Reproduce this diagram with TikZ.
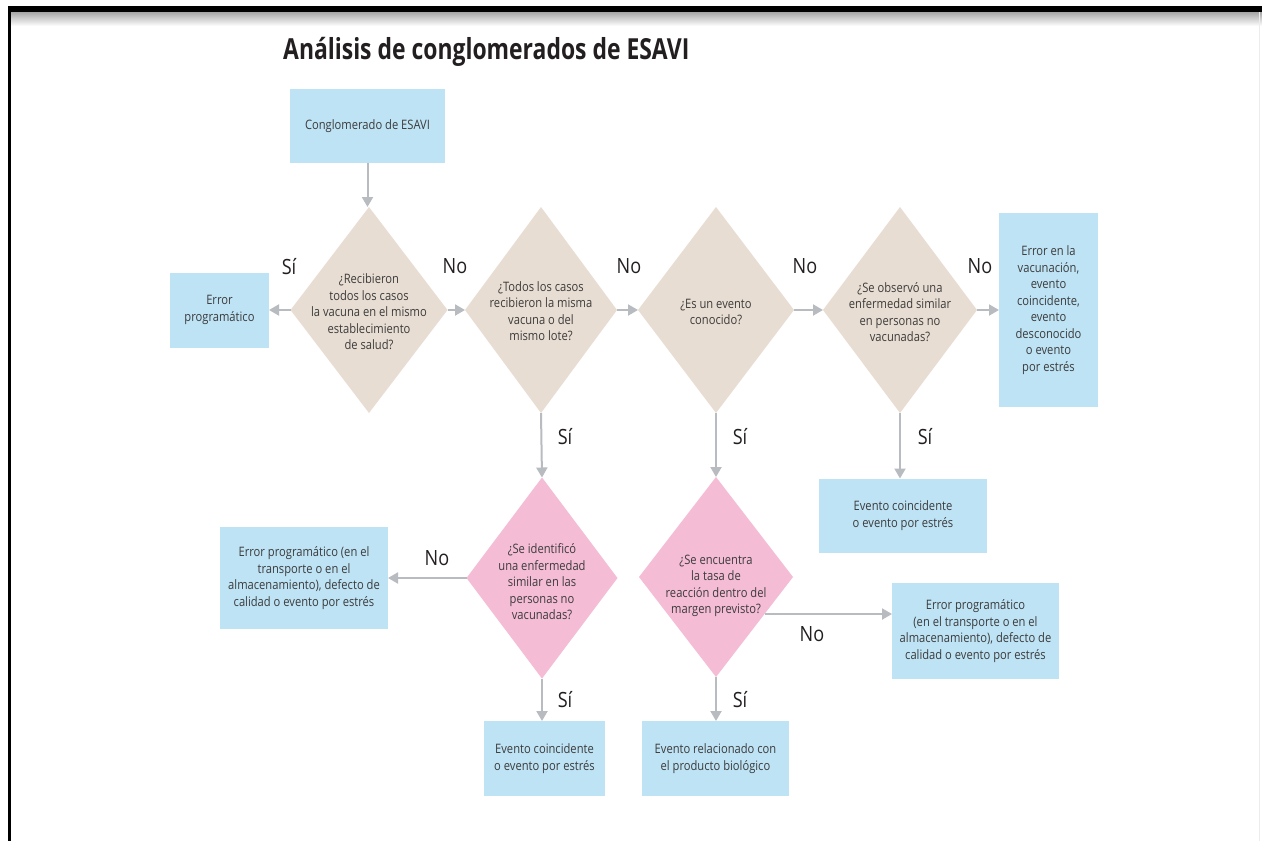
\documentclass[tikz,border=0pt]{standalone}
\usepackage{fontspec}
\setmainfont{Open Sans}[FakeStretch=0.86]
\newfontfamily\titlefont{Open Sans}[FakeStretch=0.79]
\usetikzlibrary{shapes.geometric,arrows.meta,calc}
\definecolor{boxblue}{RGB}{190,227,245}
\definecolor{beiged}{RGB}{232,221,210}
\definecolor{pinkd}{RGB}{245,188,213}
\definecolor{arrgray}{RGB}{184,187,191}
\definecolor{txt}{RGB}{60,60,60}
\definecolor{titlec}{RGB}{35,31,32}
\begin{document}
\begin{tikzpicture}[x=1pt,y=-1pt,
  box/.style={fill=boxblue, inner sep=0pt, outer sep=0pt, text=txt, align=center,
    font=\fontsize{13}{16.5}\selectfont},
  dia/.style={diamond, inner sep=0pt, outer sep=0pt, draw=none},
  beigedia/.style={dia, fill=beiged},
  pinkdia/.style={dia, fill=pinkd},
  dtext/.style={text=txt, align=center, inner sep=0pt, font=\fontsize{13}{16.5}\selectfont},
  arr/.style={draw=arrgray, line width=2pt, -{Triangle[length=10pt,width=11pt]}},
  lab/.style={font=\fontsize{21}{24}\selectfont, text=titlec, inner sep=0pt}]
\useasboundingbox (0,0) rectangle (1262,841);
\fill[white] (0,0) rectangle (1262,841);
% frame
\shade[top color=gray!70, bottom color=white] (8,12) rectangle (1262,26);
\fill[black] (8,6) rectangle (1262,12);
\fill[black] (8,6) rectangle (11,841);
\draw[gray!15, line width=1pt] (1259,12) -- (1259,841);
% title
\node[anchor=west, text=titlec, inner sep=0pt, font=\titlefont\fontsize{29}{32}\selectfont\bfseries] (title) at (283,52) {Análisis de conglomerados de ESAVI};
% boxes
\node[box, minimum width=155pt, minimum height=74pt] (top) at (367.5,126) {Conglomerado de ESAVI};
\node[box, minimum width=99pt, minimum height=75pt] (err1) at (219.5,310) {Error\\programático};
\node[box, minimum width=99pt, minimum height=194pt] (rbox) at (1048.5,310) {Error en la\\vacunación,\\evento\\coincidente,\\evento\\desconocido\\o evento\\por estrés};
\node[box, minimum width=168pt, minimum height=74pt] (coinc1) at (903,515.5) {Evento coincidente\\o evento por estrés};
\node[box, minimum width=168pt, minimum height=102pt] (lb) at (304,578) {Error programático (en el\\transporte o en el\\almacenamiento), defecto de\\calidad o evento por estrés};
\node[box, minimum width=167pt, minimum height=96pt] (rb) at (975.5,631) {Error programático\\(en el transporte o en el\\almacenamiento), defecto de\\calidad o evento por estrés};
\node[box, minimum width=121pt, minimum height=75pt] (coinc2) at (544.5,758.5) {Evento coincidente\\o evento por estrés};
\node[box, minimum width=147pt, minimum height=75pt] (bio) at (715.5,758.5) {Evento relacionado con\\el producto biológico};
% diamonds
\node[beigedia, minimum width=157pt, minimum height=206pt] (d1) at (369,310) {};
\node[beigedia, minimum width=152pt, minimum height=206pt] (d2) at (541,310) {};
\node[beigedia, minimum width=156pt, minimum height=206pt] (d3) at (716,310) {};
\node[beigedia, minimum width=154pt, minimum height=206pt] (d4) at (900,310) {};
\node[pinkdia, minimum width=151pt, minimum height=201pt] (d5) at (542,578) {};
\node[pinkdia, minimum width=154pt, minimum height=200pt] (d6) at (716,577) {};
% diamond texts
\node[dtext] (t1) at (369,312) {¿Recibieron\\todos los casos\\la vacuna en el mismo\\establecimiento\\de salud?};
\node[dtext] (t2) at (541,311) {¿Todos los casos\\recibieron la misma\\vacuna o del\\mismo lote?};
\node[dtext] (t3) at (716,312) {¿Es un evento\\conocido?};
\node[dtext] (t4) at (900,312) {¿Se observó una\\enfermedad similar\\en personas no\\vacunadas?};
\node[dtext] (t5) at (542,582) {¿Se identificó\\una enfermedad\\similar en las\\personas no\\vacunadas?};
\node[dtext] (t6) at (716,586) {¿Se encuentra\\la tasa de\\reacción dentro del\\margen previsto?};
% connectors
\draw[arr] (top.south) -- (top.south |- d1.north);
\draw[arr] (d1.west) -- (err1.east);
\draw[arr] (d1.east) -- (d2.west);
\draw[arr] (d2.east) -- (d3.west);
\draw[arr] (d3.east) -- (d4.west);
\draw[arr] (d4.east) -- (rbox.west);
\draw[arr] (d2.south) -- (d5.north);
\draw[arr] (d3.south) -- (d6.north);
\draw[arr] (d4.south) -- (d4.south |- coinc1.north);
\draw[arr] (d5.west) -- (lb.east);
\coordinate (s6) at ($(d6.east)!0.37!(d6.south)$);
\draw[arr] (s6) -- (s6 -| rb.west);
\draw[arr] (d5.south) -- (d5.south |- coinc2.north);
\draw[arr] (d6.south) -- (d6.south |- bio.north);
% labels
\node[lab] (l1) at (289,267) {Sí};
\node[lab] (l2) at (455,266) {No};
\node[lab] (l3) at (629,266) {No};
\node[lab] (l4) at (805,266) {No};
\node[lab] (l5) at (980,266) {No};
\node[lab] (l6) at (565,437) {Sí};
\node[lab] (l7) at (740,437) {Sí};
\node[lab] (l8) at (925,437) {Sí};
\node[lab] (l9) at (437,558) {No};
\node[lab] (l10) at (812,634) {No};
\node[lab] (l11) at (565,700) {Sí};
\node[lab] (l12) at (740,700) {Sí};
\end{tikzpicture}
\end{document}
